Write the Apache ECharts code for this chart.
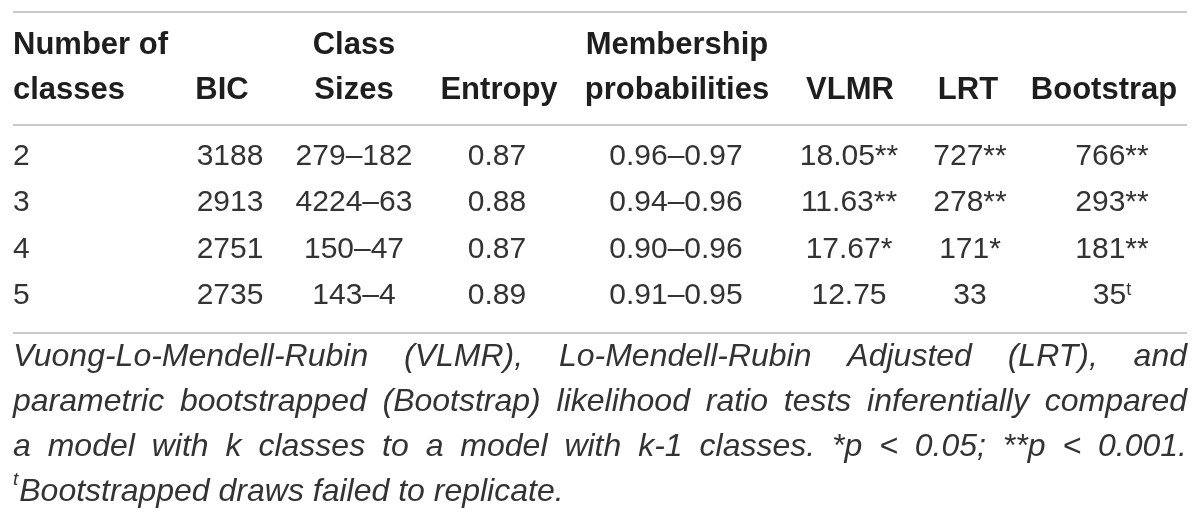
<!DOCTYPE html>
<html>
<head>
<meta charset="utf-8">
<script src="https://cdn.jsdelivr.net/npm/echarts@6/dist/echarts.min.js"></script>
<style>
  html, body { margin: 0; padding: 0; background: #fff; }
  #chart { width: 1200px; height: 518px; }
</style>
</head>
<body>
<div id="chart"></div>
<script>
// table content
var headerTop = ['Number of', '', 'Class', '', 'Membership', '', '', ''];
var headerBottom = ['classes', 'BIC', 'Sizes', 'Entropy', 'probabilities', 'VLMR', 'LRT', 'Bootstrap'];
var classes = ['2', '3', '4', '5'];
var bic = ['3188', '2913', '2751', '2735'];
var classSizes = ['279–182', '4224–63', '150–47', '143–4'];
var entropy = ['0.87', '0.88', '0.87', '0.89'];
var membership = ['0.96–0.97', '0.94–0.96', '0.90–0.96', '0.91–0.95'];
var vlmr = ['18.05**', '11.63**', '17.67*', '12.75'];
var lrt = ['727**', '278**', '171*', '33'];
var bootstrap = ['766**', '293**', '181**', '35'];
var bootstrapSup = ['', '', '', 't'];
var captionLines = [
    'Vuong-Lo-Mendell-Rubin (VLMR), Lo-Mendell-Rubin Adjusted (LRT), and',
    'parametric bootstrapped (Bootstrap) likelihood ratio tests inferentially compared',
    'a model with k classes to a model with k-1 classes. *p < 0.05; **p < 0.001.'
];
var captionNoteMark = 't';
var captionNote = 'Bootstrapped draws failed to replicate.';

// layout (pixels of the 1200x518 canvas)
var tableLeft = 13, tableRight = 1187;
var headX = [13, 222, 354, 499, 677, 850, 968, 1104];
var bodyX = [13, 230, 354, 497, 676, 849, 970, 1112];
var headY = [45, 90];
var rowY = [157, 203, 250, 296];
var ruleY = [12, 125, 333];
var captionY = [357, 402, 447, 492];
var FONT = '"Liberation Sans", Arial, Helvetica, sans-serif';
var HEAD_FS = 31, BODY_FS = 30, CAP_FS = 32;

var columns = [classes, bic, classSizes, entropy, membership, vlmr, lrt, bootstrap];

// build the cell list
var cells = [];
headerBottom.forEach(function (h, c) {
    if (headerTop[c] != '') {
        cells.push({ x: headX[c], y: headY[0], text: headerTop[c], bold: true, align: c == 0 ? 'left' : 'center' });
    }
    cells.push({ x: headX[c], y: headY[1], text: h, bold: true, align: c == 0 ? 'left' : 'center' });
});
columns.forEach(function (col, c) {
    col.forEach(function (v, r) {
        var txt = v;
        if (c == 7 && bootstrapSup[r] != '') {
            txt = v + '{sup|' + bootstrapSup[r] + '}';
        }
        cells.push({ x: bodyX[c], y: rowY[r], text: txt, bold: false, align: c == 0 ? 'left' : 'center' });
    });
});

var myChart = echarts.init(document.getElementById('chart'));

// caption: justified lines, measured with canvas
var ctx = document.createElement('canvas').getContext('2d');
var capFont = 'italic ' + CAP_FS + 'px ' + FONT;
ctx.font = capFont;
var graphics = [];
captionLines.forEach(function (line, i) {
    var words = line.split(' ');
    var widths = words.map(function (w) { return ctx.measureText(w).width; });
    var total = widths.reduce(function (a, b) { return a + b; }, 0);
    var gap = (tableRight - tableLeft - total) / (words.length - 1);
    var x = tableLeft;
    words.forEach(function (w, k) {
        graphics.push({
            type: 'text', x: x, y: captionY[i],
            style: { text: w, font: capFont, fill: '#333', align: 'left', verticalAlign: 'middle' }
        });
        x += widths[k] + gap;
    });
});
graphics.push({
    type: 'text', x: tableLeft, y: captionY[3] - 12,
    style: { text: captionNoteMark, font: 'italic 19px ' + FONT, fill: '#333', align: 'left', verticalAlign: 'middle' }
});
ctx.font = 'italic 19px ' + FONT;
graphics.push({
    type: 'text', x: tableLeft + ctx.measureText(captionNoteMark).width + 1, y: captionY[3],
    style: { text: captionNote, font: capFont, fill: '#333', align: 'left', verticalAlign: 'middle' }
});

var option = {
    animation: false,
    backgroundColor: '#fff',
    grid: { left: 0, right: 0, top: 0, bottom: 0 },
    xAxis: { type: 'value', min: 0, max: 1200, show: false },
    yAxis: { type: 'value', min: 0, max: 518, inverse: true, show: false },
    graphic: graphics,
    series: [
        {
            // horizontal rules
            type: 'custom',
            silent: true,
            data: ruleY.map(function (y) { return [tableLeft, y]; }),
            renderItem: function (params, api) {
                var a = api.coord([tableLeft, api.value(1)]);
                var b = api.coord([tableRight, api.value(1)]);
                return {
                    type: 'line',
                    shape: { x1: a[0], y1: a[1], x2: b[0], y2: b[1] },
                    style: { stroke: '#c9c9c9', lineWidth: 2 }
                };
            }
        },
        {
            // table cells
            type: 'custom',
            silent: true,
            data: cells.map(function (d) { return [d.x, d.y]; }),
            renderItem: function (params, api) {
                var d = cells[params.dataIndex];
                var p = api.coord([api.value(0), api.value(1)]);
                return {
                    type: 'text',
                    x: p[0], y: p[1],
                    style: {
                        text: d.text,
                        fontSize: d.bold ? HEAD_FS : BODY_FS,
                        fontFamily: FONT,
                        fontWeight: d.bold ? 'bold' : 'normal',
                        fill: d.bold ? '#1e1e1e' : '#333',
                        align: d.align,
                        verticalAlign: 'middle',
                        rich: {
                            sup: { fontSize: 18, fontFamily: FONT, fill: '#333', verticalAlign: 'top', padding: [0, 0, 12, 0] }
                        }
                    }
                };
            }
        }
    ]
};
myChart.setOption(option);
</script>
</body>
</html>
